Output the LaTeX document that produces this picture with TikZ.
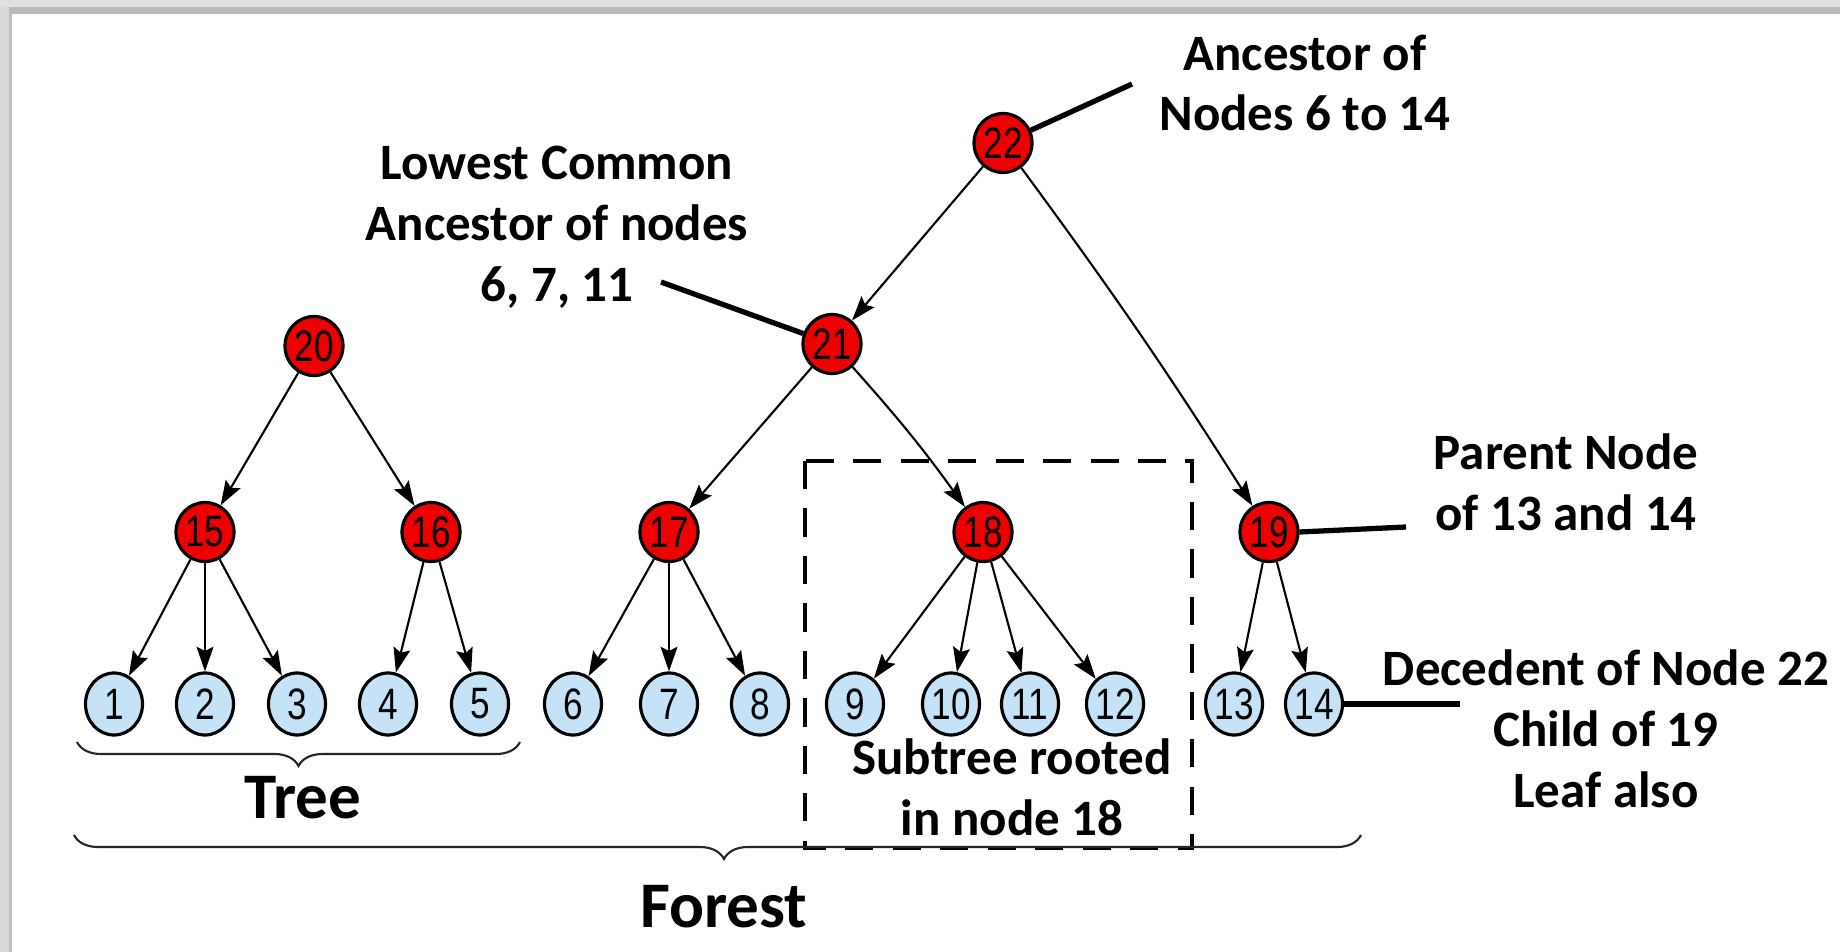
\documentclass[tikz,border=0pt]{standalone}
\usepackage{fontspec}
\setmainfont{Carlito}
\newfontfamily\numfont[FakeStretch=0.8]{Liberation Sans}
\usetikzlibrary{shapes.geometric, arrows.meta, decorations.pathreplacing}
\definecolor{leafblue}{RGB}{198,226,247}
\definecolor{nodered}{RGB}{238,0,0}
\begin{document}
\begin{tikzpicture}[x=0.01cm, y=-0.01cm,
  inner/.style={ellipse, draw=black, line width=0.9pt, fill=nodered,
    minimum width=0.58cm, minimum height=0.59cm, inner sep=0pt,
    font=\numfont\fontsize{12.5}{14}\selectfont},
  leaf/.style={ellipse, draw=black, line width=0.9pt, fill=leafblue,
    minimum width=0.57cm, minimum height=0.62cm, inner sep=0pt,
    font=\numfont\fontsize{12.5}{14}\selectfont},
  edge/.style={draw=black, line width=0.6pt,
    -{Stealth[length=7pt,width=4.8pt,inset=1.2pt]}},
  callout/.style={draw=black, line width=1.5pt},
  lbl/.style={align=center, font=\bfseries\fontsize{14.5}{17.3}\selectfont},
  big/.style={font=\bfseries\fontsize{18.5}{22}\selectfont},
  brc/.style={draw=black!85, line width=0.6pt, decorate,
    decoration={brace, amplitude=0.24cm, mirror}},
  dashbox/.style={draw=black, line width=1pt, dash pattern=on 8pt off 5.5pt}
]
% page and frame shadow
\fill[white] (0,0) rectangle (1840,952);
\useasboundingbox (0,0) rectangle (1840,952);
\fill[black!12] (0,0) rectangle (1840,7);
\fill[black!27] (0,7) rectangle (1840,14);
\fill[black!15] (0,7) rectangle (9,952);
\fill[black!25] (9,14) rectangle (12,952);

% internal nodes
\node[inner] (n22) at (1003,143) {22};
\node[inner] (n21) at (832,344) {21};
\node[inner] (n20) at (314,346) {20};
\node[inner] (n15) at (205,532) {15};
\node[inner] (n16) at (431,532) {16};
\node[inner] (n17) at (669,532) {17};
\node[inner] (n18) at (983,532) {18};
\node[inner] (n19) at (1269,532) {19};

% leaves
\node[leaf] (l1)  at (114,704) {1};
\node[leaf] (l2)  at (205,704) {2};
\node[leaf] (l3)  at (297,704) {3};
\node[leaf] (l4)  at (388,704) {4};
\node[leaf] (l5)  at (480,704) {5};
\node[leaf] (l6)  at (573,704) {6};
\node[leaf] (l7)  at (669,704) {7};
\node[leaf] (l8)  at (760,704) {8};
\node[leaf] (l9)  at (855,704) {9};
\node[leaf] (l10) at (951,704) {10};
\node[leaf] (l11) at (1030,704) {11};
\node[leaf] (l12) at (1115,704) {12};
\node[leaf] (l13) at (1234,704) {13};
\node[leaf] (l14) at (1314,704) {14};

% parent -> child edges
\draw[edge] (n22) -- (n21);
\draw[edge] (n22) to[bend left=2] (n19);
\draw[edge] (n21) -- (n17);
\draw[edge] (n21) to[bend left=3] (n18);
\draw[edge] (n20) -- (n15);
\draw[edge] (n20) -- (n16);
\draw[edge] (n15) -- (l1);
\draw[edge] (n15) -- (l2);
\draw[edge] (n15) -- (l3);
\draw[edge] (n16) -- (l4);
\draw[edge] (n16) -- (l5);
\draw[edge] (n17) -- (l6);
\draw[edge] (n17) -- (l7);
\draw[edge] (n17) -- (l8);
\draw[edge] (n18) -- (l9);
\draw[edge] (n18) -- (l10);
\draw[edge] (n18) -- (l11);
\draw[edge] (n18) -- (l12);
\draw[edge] (n19) -- (l13);
\draw[edge] (n19) -- (l14);

% subtree frame
\draw[dashbox] (805,461) rectangle (1192,848);

% braces
\draw[brc] (77,742) -- (520,742);
\draw[brc, decoration={aspect=0.505}] (74,835) -- (1361,835);

% captions
\node[lbl] (tAnc) at (1305,83) {Ancestor of\\Nodes 6 to 14};
\node[lbl] (tLca) at (557,227) {Lowest Common\\Ancestor of nodes\\6, 7, 11};
\node[lbl] (tPar) at (1566,482) {Parent Node\\of 13 and 14};
\node[lbl] (tDec) at (1606,729) {Decedent of Node 22\\Child of 19\\Leaf also};
\node[lbl] (tSub) at (1012,787) {Subtree rooted\\in node 18};
\node[big] (tTree) at (303,798) {Tree};
\node[big] (tForest) at (724,907) {Forest};

% callout lines
\coordinate (c22) at (1132,84);
\coordinate (c21) at (661,282);
\coordinate (c19) at (1406,527);
\coordinate (c14) at (1460,704);
\draw[callout] (n22) -- (c22);
\draw[callout] (c21) -- (n21);
\draw[callout] (n19.east) -- (c19);
\draw[callout] (l14.east) -- (c14);
\end{tikzpicture}
\end{document}
